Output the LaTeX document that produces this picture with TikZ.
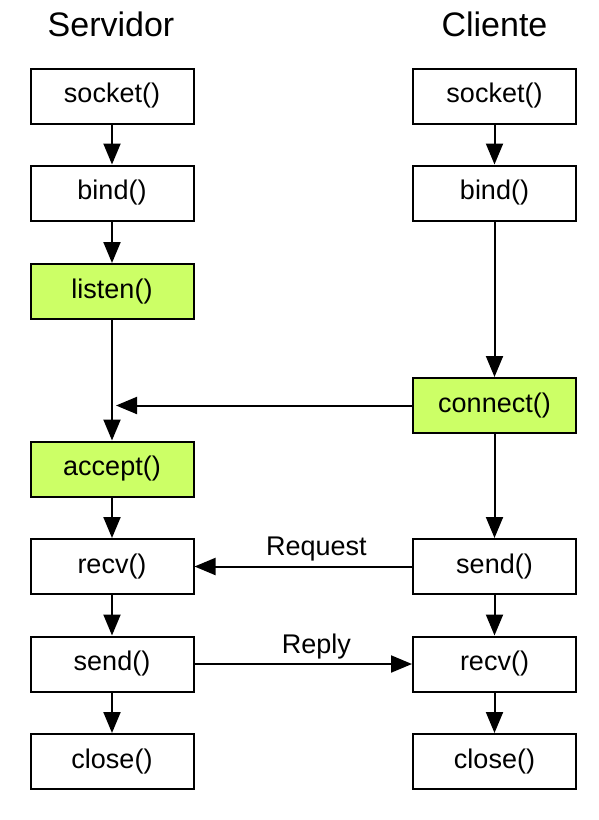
\documentclass[tikz,border=0pt]{standalone}
\usepackage{fontspec}
\setmainfont{Liberation Sans}
\usetikzlibrary{arrows.meta}
\definecolor{callgreen}{RGB}{204,255,102}
\begin{document}
\begin{tikzpicture}[x=1pt,y=-1pt,
  callbox/.style={draw=black, line width=2pt, fill=white, minimum width=163pt, minimum height=55pt, inner sep=0pt,
    font=\fontsize{27}{30}\selectfont},
  hot/.style={callbox, fill=callgreen},
  title/.style={font=\fontsize{34}{38}\selectfont, anchor=base},
  lbl/.style={font=\fontsize{27}{30}\selectfont, anchor=base, yshift=11pt},
  flow/.style={line width=2pt, -{Triangle[length=21pt,width=17pt]}}]
\useasboundingbox (0,0) rectangle (598,820);
\node[title] (tserv) at (111,36) {Servidor};
\node[title] (tcli) at (494.5,36) {Cliente};
% server
\node[callbox] (ssock) at (112,96) {socket()};
\node[callbox] (sbind) at (112,193) {bind()};
\node[hot] (slist) at (112,291.5) {listen()};
\node[hot] (sacc) at (112,469) {accept()};
\node[callbox] (srecv) at (112,566.5) {recv()};
\node[callbox] (ssend) at (112,664) {send()};
\node[callbox] (sclose) at (112,761.5) {close()};
% client
\node[callbox] (csock) at (494.5,96) {socket()};
\node[callbox] (cbind) at (494.5,193) {bind()};
\node[hot] (cconn) at (494.5,405.5) {connect()};
\node[callbox] (csend) at (494.5,566.5) {send()};
\node[callbox] (crecv) at (494.5,664) {recv()};
\node[callbox] (cclose) at (494.5,761.5) {close()};
\coordinate (meet) at (116,405.5);
% arrows
\draw[flow] (ssock) -- (sbind);
\draw[flow] (sbind) -- (slist);
\draw[flow] (slist) -- (sacc);
\draw[flow] (sacc) -- (srecv);
\draw[flow] (srecv) -- (ssend);
\draw[flow] (ssend) -- (sclose);
\draw[flow] (csock) -- (cbind);
\draw[flow] (cbind) -- (cconn);
\draw[flow] (cconn) -- (csend);
\draw[flow] (csend) -- (crecv);
\draw[flow] (crecv) -- (cclose);
\draw[flow] (cconn.west) -- (meet);
\draw[flow] (csend.west) -- node[lbl, pos=0.44] {Request} (srecv.east);
\draw[flow] (ssend.east) -- node[lbl, pos=0.56] {Reply} (crecv.west);
\end{tikzpicture}
\end{document}
